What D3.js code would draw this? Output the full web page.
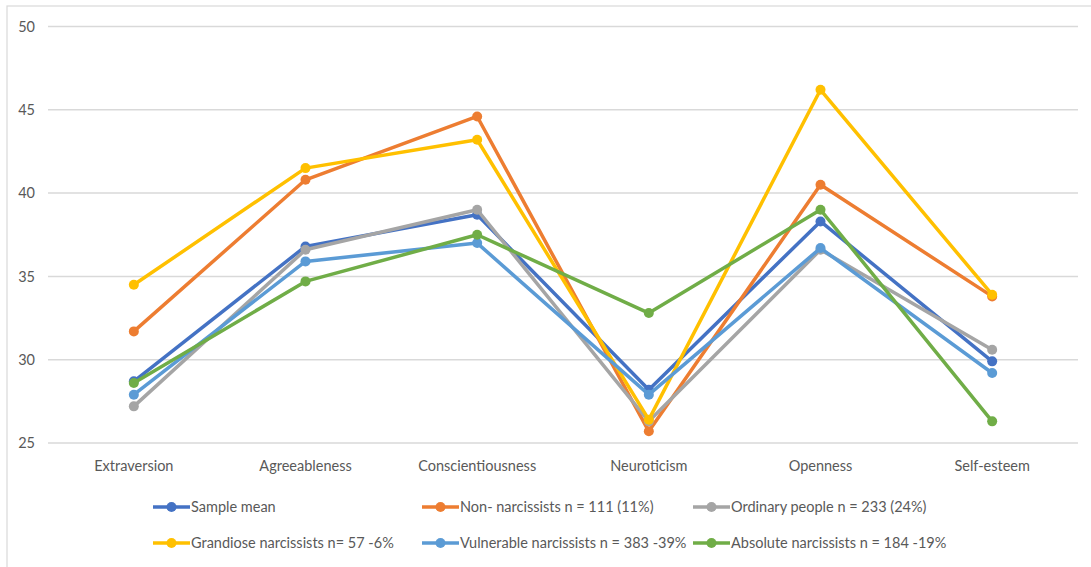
<!DOCTYPE html>
<html>
<head>
<meta charset="utf-8">
<script src="https://cdn.jsdelivr.net/npm/d3@7"></script>
<style>
  html, body { margin: 0; padding: 0; background: #fff; }
  svg { display: block; font-family: Lato, "Open Sans", sans-serif; }
</style>
</head>
<body>
<svg id="chart" width="1091" height="567"></svg>
<script>
const categories = ["Extraversion", "Agreeableness", "Conscientiousness", "Neuroticism", "Openness", "Self-esteem"];
const seriesNames = [
  "Sample mean",
  "Non- narcissists n = 111 (11%)",
  "Ordinary people n = 233 (24%)",
  "Grandiose narcissists n= 57 -6%",
  "Vulnerable narcissists n = 383 -39%",
  "Absolute narcissists n = 184 -19%"
];
const sampleMean  = [28.7, 36.8, 38.7, 28.2, 38.3, 29.9];
const nonNarc     = [31.7, 40.8, 44.6, 25.7, 40.5, 33.8];
const ordinary    = [27.2, 36.6, 39.0, 26.3, 36.6, 30.6];
const grandiose   = [34.5, 41.5, 43.2, 26.4, 46.2, 33.9];
const vulnerable  = [27.9, 35.9, 37.0, 27.9, 36.7, 29.2];
const absolute    = [28.6, 34.7, 37.5, 32.8, 39.0, 26.3];
const yTicks = [25, 30, 35, 40, 45, 50];
const colors = ["#4472C4", "#ED7D31", "#A5A5A5", "#FFC000", "#5B9BD5", "#70AD47"];

const seriesValues = [sampleMean, nonNarc, ordinary, grandiose, vulnerable, absolute];
const series = seriesNames.map((name, i) => ({ name, values: seriesValues[i], color: colors[i] }));

const svg = d3.select("#chart");

// chart border (top and left visible)
svg.append("rect").attr("x", 7).attr("y", 6).attr("width", 1200).attr("height", 700)
  .attr("fill", "none").attr("stroke", "#D9D9D9").attr("stroke-width", 1.2);

const plotLeft = 48, plotRight = 1078, plotTop = 26.5, plotBottom = 443;
const x = d3.scaleBand().domain(categories).range([plotLeft, plotRight]);
const y = d3.scaleLinear().domain([25, 50]).range([plotBottom, plotTop]);

// gridlines
svg.append("g").selectAll("line").data(yTicks).join("line")
  .attr("x1", plotLeft).attr("x2", plotRight)
  .attr("y1", d => y(d)).attr("y2", d => y(d))
  .attr("stroke", "#D9D9D9").attr("stroke-width", 1.5);

// y axis labels
const yAxis = svg.append("g").attr("transform", `translate(${plotLeft},0)`)
  .call(d3.axisLeft(y).tickValues(yTicks).tickSize(0).tickPadding(13));
yAxis.select(".domain").remove();
yAxis.selectAll("text").attr("fill", "#595959").attr("font-size", 14.5)
  .attr("font-family", "Lato, sans-serif");

// x axis labels
const xAxis = svg.append("g").attr("transform", `translate(0,${plotBottom})`)
  .call(d3.axisBottom(x).tickSize(0).tickPadding(18));
xAxis.select(".domain").remove();
xAxis.selectAll("text").attr("fill", "#595959").attr("font-size", 14.5)
  .attr("font-family", "Lato, sans-serif");

const cx = c => x(c) + x.bandwidth() / 2;
const line = d3.line().x((d, i) => cx(categories[i])).y(d => y(d));

const g = svg.append("g");
series.forEach(s => {
  const sg = g.append("g");
  sg.append("path").attr("d", line(s.values)).attr("fill", "none")
    .attr("stroke", s.color).attr("stroke-width", 3.5).attr("stroke-linejoin", "round");
  sg.selectAll("circle").data(s.values).join("circle")
    .attr("cx", (d, i) => cx(categories[i])).attr("cy", d => y(d))
    .attr("r", 5).attr("fill", s.color);
});

// legend
const legCols = [153, 422, 693];
const legRows = [507, 543];
const leg = svg.append("g");
series.forEach((s, i) => {
  const lx = legCols[i % 3], ly = legRows[Math.floor(i / 3)];
  const lg = leg.append("g").attr("transform", `translate(${lx},${ly})`);
  lg.append("line").attr("x1", 0).attr("x2", 37).attr("y1", 0).attr("y2", 0)
    .attr("stroke", s.color).attr("stroke-width", 3.5);
  lg.append("circle").attr("cx", 18.5).attr("cy", 0).attr("r", 5).attr("fill", s.color);
  lg.append("text").attr("x", 38).attr("y", 0).attr("dy", "0.35em")
    .attr("fill", "#595959").attr("font-size", 14.5).attr("font-family", "Lato, sans-serif")
    .text(s.name);
});
</script>
</body>
</html>
